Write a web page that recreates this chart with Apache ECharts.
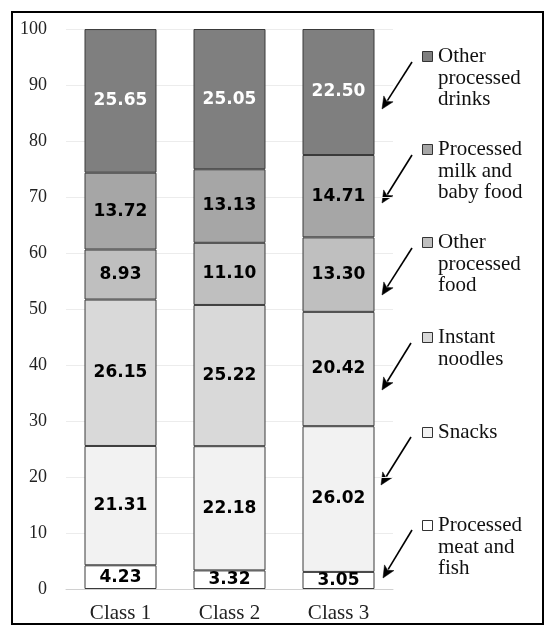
<!DOCTYPE html>
<html>
<head>
<meta charset="utf-8">
<script src="https://cdn.jsdelivr.net/npm/echarts@6/dist/echarts.min.js"></script>
<style>
  html, body { margin: 0; padding: 0; background: #fff; }
  #chart { width: 546px; height: 626px; }
</style>
</head>
<body>
<div id="chart"></div>
<script>
// Share (%) of each processed-food group by class
var classes = ['Class 1', 'Class 2', 'Class 3'];
var yTicks = [0, 10, 20, 30, 40, 50, 60, 70, 80, 90, 100];

var meatFish    = [4.23, 3.32, 3.05];
var snacks      = [21.31, 22.18, 26.02];
var noodles     = [26.15, 25.22, 20.42];
var otherFood   = [8.93, 11.10, 13.30];
var milkBaby    = [13.72, 13.13, 14.71];
var otherDrinks = [25.65, 25.05, 22.50];

// stacking order, bottom to top
var groups = [
  { name: 'Processed meat and fish', lines: ['Processed', 'meat and', 'fish'], data: meatFish,    color: '#ffffff', text: '#000' },
  { name: 'Snacks',                  lines: ['Snacks'],                        data: snacks,      color: '#f2f2f2', text: '#000' },
  { name: 'Instant noodles',         lines: ['Instant', 'noodles'],            data: noodles,     color: '#d9d9d9', text: '#000' },
  { name: 'Other processed food',    lines: ['Other', 'processed', 'food'],    data: otherFood,   color: '#bfbfbf', text: '#000' },
  { name: 'Processed milk and baby food', lines: ['Processed', 'milk and', 'baby food'], data: milkBaby, color: '#a6a6a6', text: '#000' },
  { name: 'Other processed drinks',  lines: ['Other', 'processed', 'drinks'],  data: otherDrinks, color: '#7f7f7f', text: '#fff' }
];

var series = groups.map(function (g) {
  return {
    name: g.name,
    type: 'bar',
    stack: 'total',
    barWidth: 72,
    data: g.data,
    itemStyle: { color: g.color, borderColor: '#3a3a3a', borderWidth: 1 },
    label: {
      show: true,
      position: 'inside',
      color: g.text,
      fontFamily: 'DejaVu Sans',
      fontWeight: 'bold',
      fontSize: 17,
      formatter: function (p) { return p.value.toFixed(2); }
    }
  };
});

// legend entries with pointer arrows, listed top to bottom
var legendBaselines = [64, 157, 250, 345, 440, 533];
var arrows = [
  [412, 62, 382, 109],
  [412, 155, 382, 203],
  [412, 248, 382, 295],
  [411, 343, 382, 390],
  [411, 437, 381, 485],
  [412, 530, 383, 578]
];

var graphics = [];
// outer frame
graphics.push({
  type: 'rect',
  shape: { x: 12, y: 12, width: 531, height: 612 },
  style: { fill: 'none', stroke: '#000', lineWidth: 2 },
  silent: true
});

var topDown = groups.slice().reverse();
topDown.forEach(function (g, i) {
  var base = legendBaselines[i];
  graphics.push({
    type: 'rect',
    shape: { x: 422.5, y: base - 12.5, width: 10, height: 10 },
    style: { fill: g.color, stroke: '#333', lineWidth: 1 }
  });
  graphics.push({
    type: 'text',
    x: 438,
    y: base - 18,
    style: {
      text: g.lines.join('\n'),
      fontFamily: 'Liberation Serif',
      fontSize: 21,
      lineHeight: 21.5,
      fill: '#111',
      verticalAlign: 'top',
      align: 'left'
    }
  });
  var a = arrows[i];
  var dx = a[2] - a[0], dy = a[3] - a[1];
  var len = Math.sqrt(dx * dx + dy * dy);
  var ux = dx / len, uy = dy / len;
  var headLen = 12, headHalf = 5.5;
  var bx = a[2] - ux * headLen, by = a[3] - uy * headLen;
  graphics.push({
    type: 'line',
    shape: { x1: a[0], y1: a[1], x2: bx + ux * 2, y2: by + uy * 2 },
    style: { stroke: '#000', lineWidth: 1.6 }
  });
  graphics.push({
    type: 'polygon',
    shape: {
      points: [
        [a[2], a[3]],
        [bx - uy * headHalf, by + ux * headHalf],
        [bx + ux * 3, by + uy * 3],
        [bx + uy * headHalf, by - ux * headHalf]
      ]
    },
    style: { fill: '#000', stroke: '#000', lineWidth: 0.5 }
  });
});

var chart = echarts.init(document.getElementById('chart'), null, { renderer: 'canvas' });
chart.setOption({
  animation: false,
  backgroundColor: '#fff',
  grid: { left: 66, right: 153, top: 29, bottom: 37, containLabel: false },
  xAxis: {
    type: 'category',
    data: classes,
    axisLine: { show: true, lineStyle: { color: '#d0d0d0', width: 1 } },
    axisTick: { show: false },
    axisLabel: {
      margin: 14,
      fontFamily: 'Liberation Serif',
      fontSize: 21,
      color: '#222'
    }
  },
  yAxis: {
    type: 'value',
    min: yTicks[0],
    max: yTicks[yTicks.length - 1],
    interval: 10,
    axisLine: { show: false },
    axisTick: { show: false },
    splitLine: { lineStyle: { color: '#ececec', width: 1 } },
    axisLabel: {
      margin: 19,
      fontFamily: 'Liberation Serif',
      fontSize: 18,
      color: '#222'
    }
  },
  series: series,
  graphic: graphics
});
</script>
</body>
</html>
